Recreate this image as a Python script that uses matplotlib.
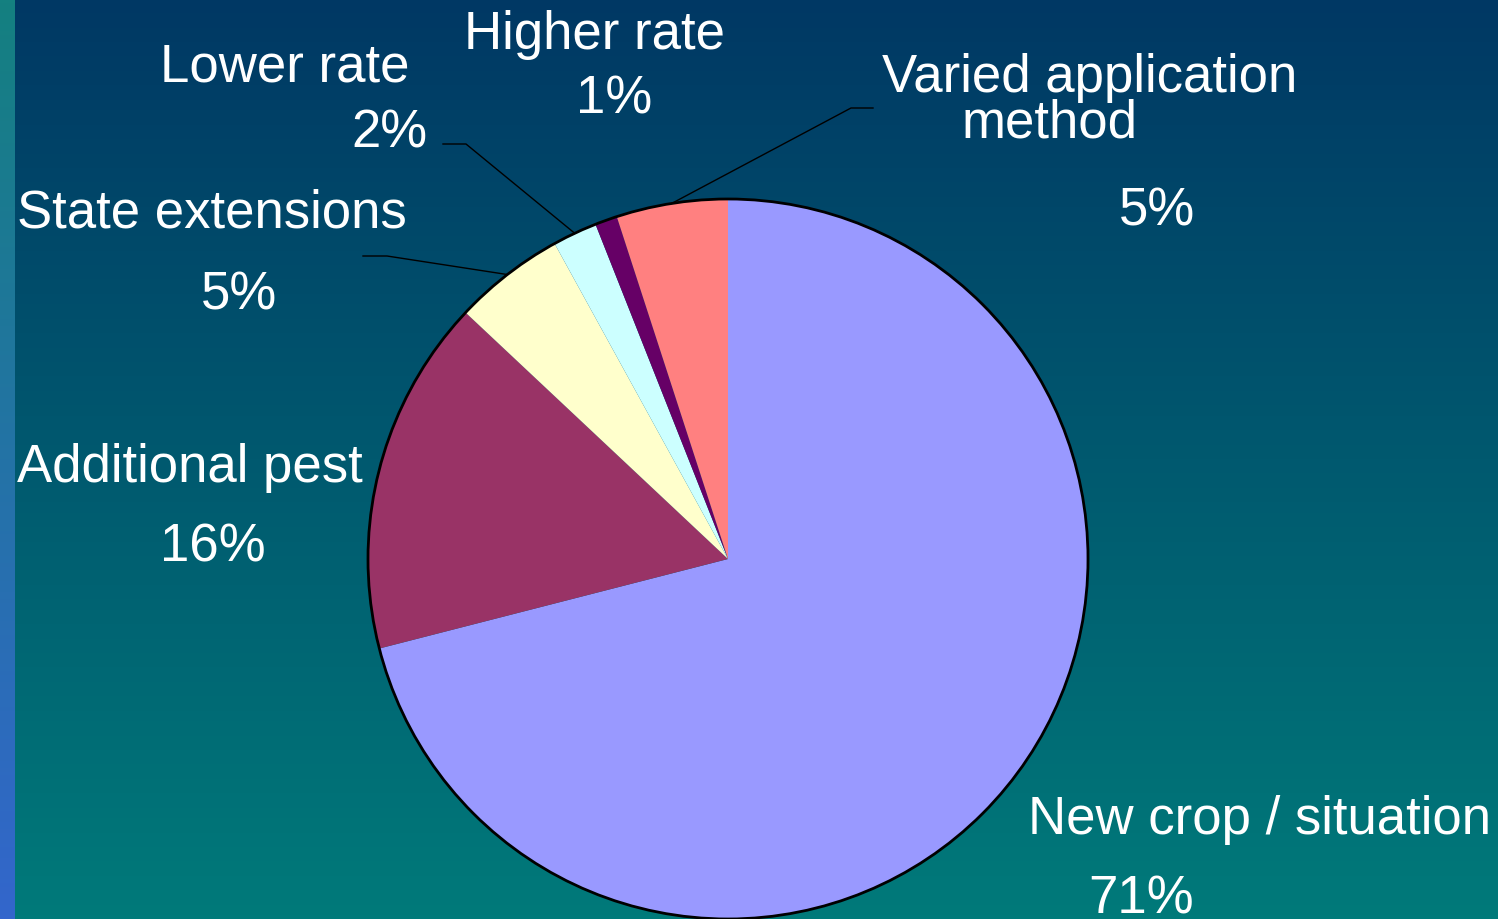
import numpy as np
import matplotlib
matplotlib.use("Agg")
import matplotlib.pyplot as plt
from matplotlib.patches import Circle

W, H = 1498, 920

# data
names = ["New crop / situation", "Additional pest", "State extensions",
         "Lower rate", "Higher rate", "Varied application\nmethod"]
values = [71, 16, 5, 2, 1, 5]
pct_labels = ["71%", "16%", "5%", "2%", "1%", "5%"]
colors = ["#9999FF", "#993366", "#FFFFCC", "#CCFFFF", "#660066", "#FF8080"]

# label layout (pixel x, pixel baseline y from top), one entry per text line
name_pos = [[(1259, 834)], [(190, 482)], [(212, 227)], [(285, 82)],
            [(595, 49)], [(1090, 92), (1050, 138)]]
pct_pos = [(1141, 914), (213, 562), (239, 309), (389, 147), (614, 113), (1157, 225)]
# leader lines: (end, kink) for slices that have one
leaders = {2: ((363, 257), (387, 257)),
           3: ((443, 145), (466, 145)),
           5: ((873, 109), (851, 109))}

center = (728, H - 560)
radius = 360

plt.rcParams['font.family'] = ['Liberation Sans', 'DejaVu Sans']

fig = plt.figure(figsize=(W / 100, H / 100), dpi=100)
ax = fig.add_axes([0, 0, 1, 1])

# background gradient
top = np.array([0, 56, 100]) / 255
bot = np.array([0, 122, 122]) / 255
t = np.linspace(0, 1, 256)[:, None]
grad = (top * (1 - t) + bot * t)[:, None, :]
ax.imshow(grad, extent=(15, W, 0, H), aspect='auto', zorder=0, origin='upper')
stop = np.array([20, 128, 128]) / 255
sbot = np.array([51, 102, 204]) / 255
strip = (stop * (1 - t) + sbot * t)[:, None, :]
ax.imshow(strip, extent=(0, 15, 0, H), aspect='auto', zorder=0, origin='upper')

wedges, _ = ax.pie(values, colors=colors, startangle=90, counterclock=False,
                   center=center, radius=radius,
                   wedgeprops=dict(linewidth=0, zorder=2))
ax.add_patch(Circle(center, radius, fill=False, edgecolor='black', lw=2, zorder=3))

def py(y):
    return H - y

for i, lines in enumerate(name_pos):
    for txt, (x, y) in zip(names[i].split("\n"), lines):
        ax.text(x, py(y), txt, color='white', fontsize=38, ha='center', va='baseline', zorder=4)
    x, y = pct_pos[i]
    ax.text(x, py(y), pct_labels[i], color='white', fontsize=38, ha='center', va='baseline', zorder=4)

for i, (end, kink) in leaders.items():
    w = wedges[i]
    ang = np.deg2rad((w.theta1 + w.theta2) / 2)
    ax_, ay_ = center[0] + radius * np.cos(ang), center[1] + radius * np.sin(ang)
    ax.plot([end[0], kink[0], ax_], [py(end[1]), py(kink[1]), ay_],
            color='black', lw=1, zorder=3)

ax.set_xlim(0, W)
ax.set_ylim(0, H)
ax.set_aspect('auto')
ax.axis('off')

fig.savefig("out.png", dpi=100)
